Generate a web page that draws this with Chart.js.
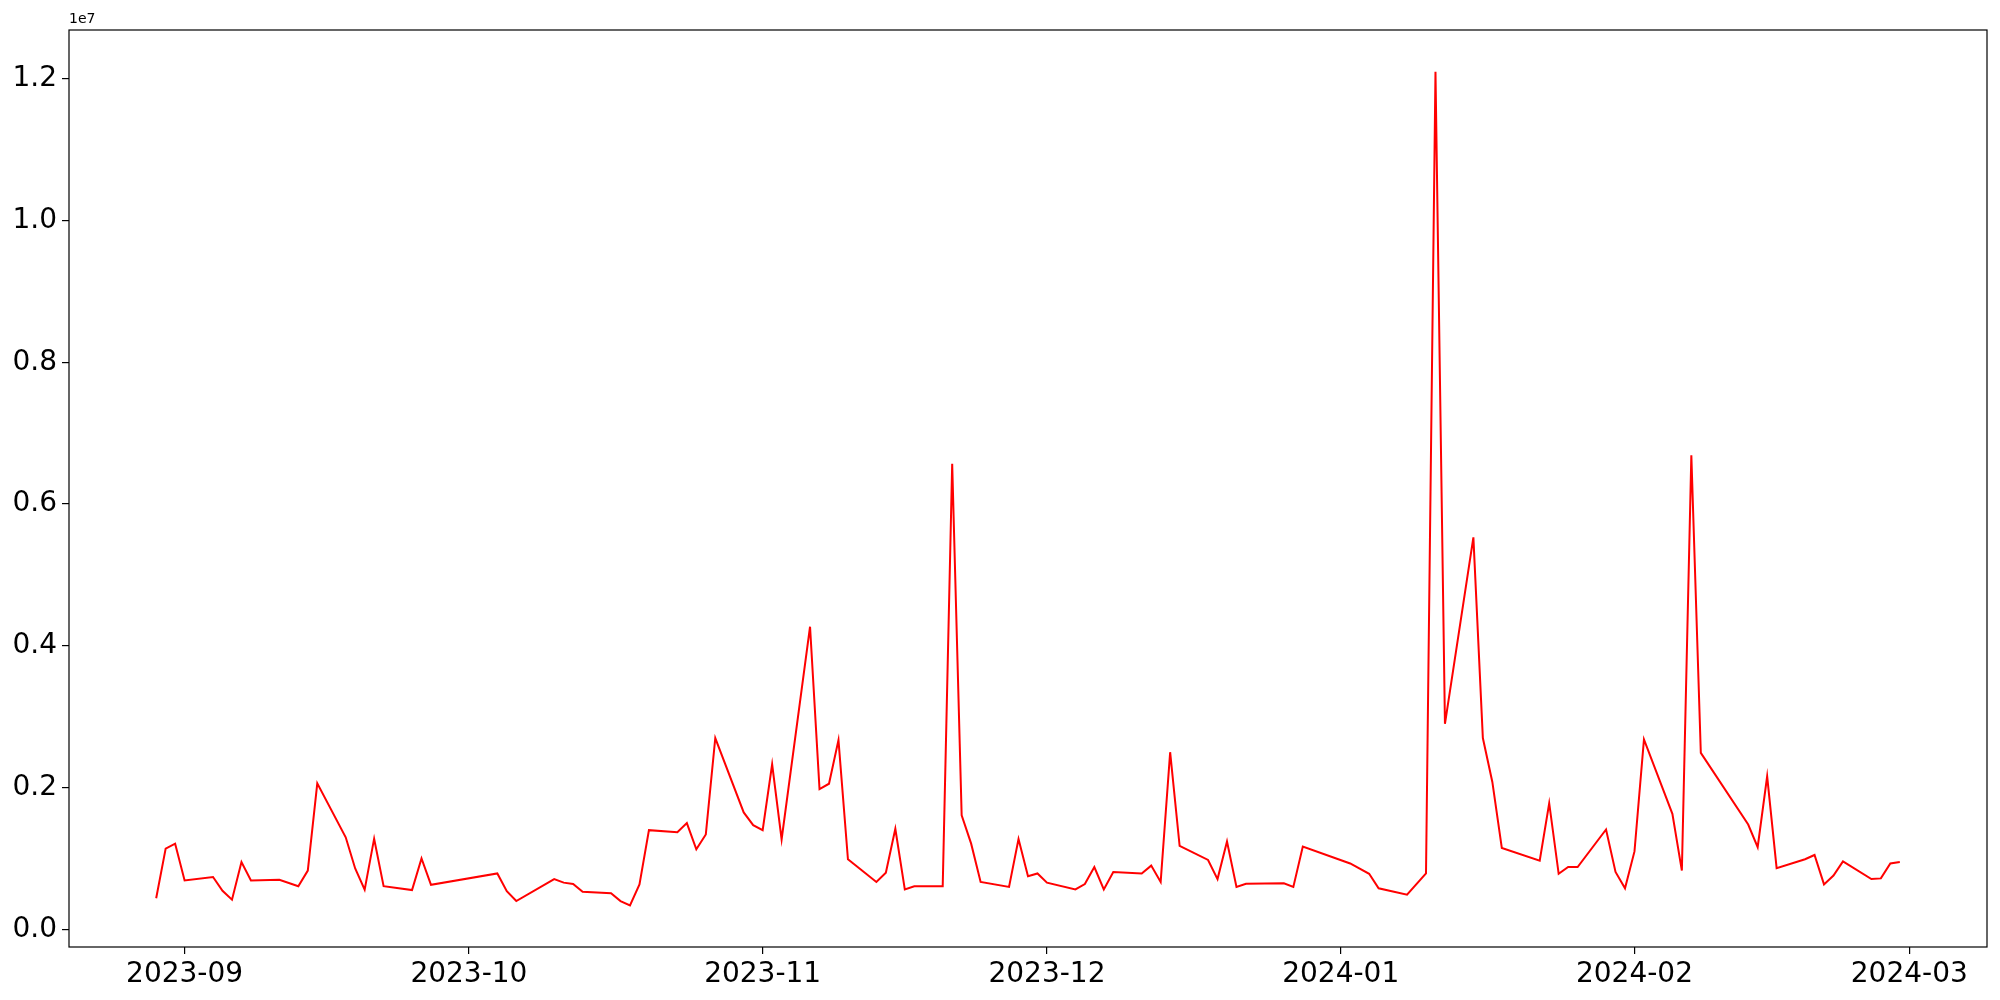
<!DOCTYPE html>
<html>
<head>
<meta charset="utf-8">
<script src="https://cdn.jsdelivr.net/npm/chart.js@4.4.0/dist/chart.umd.min.js"></script>
<style>
html, body { margin: 0; padding: 0; background: #fff; }
</style>
</head>
<body>
<canvas id="chart" width="2000" height="1000"></canvas>
<script>
// values, one per trading day
const dates = [
    "2023-08-29", "2023-08-30", "2023-08-31", "2023-09-01", "2023-09-04", "2023-09-05", "2023-09-06", "2023-09-07", "2023-09-08",
    "2023-09-11", "2023-09-13", "2023-09-14", "2023-09-15", "2023-09-18", "2023-09-19", "2023-09-20", "2023-09-21", "2023-09-22",
    "2023-09-25", "2023-09-26", "2023-09-27", "2023-10-04", "2023-10-05", "2023-10-06", "2023-10-10", "2023-10-11", "2023-10-12",
    "2023-10-13", "2023-10-16", "2023-10-17", "2023-10-18", "2023-10-19", "2023-10-20", "2023-10-23", "2023-10-24", "2023-10-25",
    "2023-10-26", "2023-10-27", "2023-10-30", "2023-10-31", "2023-11-01", "2023-11-02", "2023-11-03", "2023-11-06", "2023-11-07",
    "2023-11-08", "2023-11-09", "2023-11-10", "2023-11-13", "2023-11-14", "2023-11-15", "2023-11-16", "2023-11-17", "2023-11-20",
    "2023-11-21", "2023-11-22", "2023-11-23", "2023-11-24", "2023-11-27", "2023-11-28", "2023-11-29", "2023-11-30", "2023-12-01",
    "2023-12-04", "2023-12-05", "2023-12-06", "2023-12-07", "2023-12-08", "2023-12-11", "2023-12-12", "2023-12-13", "2023-12-14",
    "2023-12-15", "2023-12-18", "2023-12-19", "2023-12-20", "2023-12-21", "2023-12-22", "2023-12-26", "2023-12-27", "2023-12-28",
    "2024-01-02", "2024-01-04", "2024-01-05", "2024-01-08", "2024-01-10", "2024-01-11", "2024-01-12", "2024-01-15", "2024-01-16",
    "2024-01-17", "2024-01-18", "2024-01-22", "2024-01-23", "2024-01-24", "2024-01-25", "2024-01-26", "2024-01-29", "2024-01-30",
    "2024-01-31", "2024-02-01", "2024-02-02", "2024-02-05", "2024-02-06", "2024-02-07", "2024-02-08", "2024-02-13", "2024-02-14",
    "2024-02-15", "2024-02-16", "2024-02-19", "2024-02-20", "2024-02-21", "2024-02-22", "2024-02-23", "2024-02-26", "2024-02-27",
    "2024-02-28", "2024-02-29"
];

const values = [
    440000, 1140000, 1210000, 690000, 740000, 545000, 420000, 950000, 690000,
    700000, 610000, 830000, 2060000, 1300000, 860000, 560000, 1280000, 610000,
    555000, 1000000, 630000, 790000, 540000, 400000, 710000, 660000, 640000,
    530000, 510000, 400000, 340000, 635000, 1400000, 1370000, 1500000, 1130000,
    1340000, 2700000, 1650000, 1470000, 1400000, 2330000, 1270000, 4270000, 1980000,
    2055000, 2670000, 990000, 670000, 800000, 1420000, 565000, 610000, 610000,
    6570000, 1610000, 1210000, 670000, 600000, 1275000, 750000, 790000, 660000,
    565000, 640000, 880000, 565000, 810000, 790000, 900000, 670000, 2500000,
    1180000, 980000, 710000, 1240000, 600000, 645000, 650000, 600000, 1170000,
    930000, 785000, 580000, 490000, 790000, 12100000, 2900000, 5530000, 2700000,
    2080000, 1150000, 970000, 1780000, 785000, 880000, 880000, 1410000, 810000,
    580000, 1100000, 2680000, 1630000, 830000, 6690000, 2490000, 1480000, 1160000,
    2160000, 865000, 990000, 1050000, 635000, 760000, 960000, 710000, 720000,
    930000, 950000
];

const xTickLabels = ["2023-09", "2023-10", "2023-11", "2023-12", "2024-01", "2024-02", "2024-03"];
const yTickValues = [0, 2000000, 4000000, 6000000, 8000000, 10000000, 12000000];

const points = dates.map((d, i) => ({ x: Date.parse(d), y: values[i] }));

// matplotlib style 5% margins
const xFirst = points[0].x;
const xLast = points[points.length - 1].x;
const xPad = (xLast - xFirst) * 0.05;
const yLo = Math.min(...values);
const yHi = Math.max(...values);
const yPad = (yHi - yLo) * 0.05;

const tickFont = { family: "DejaVu Sans", size: 28 };

const frame = {
    id: "frame",
    afterDraw(chart) {
        const { ctx, chartArea } = chart;
        ctx.save();
        ctx.strokeStyle = "#000";
        ctx.lineWidth = 1.2;
        ctx.strokeRect(chartArea.left, chartArea.top, chartArea.right - chartArea.left, chartArea.bottom - chartArea.top);
        ctx.fillStyle = "#000";
        ctx.font = "14px 'DejaVu Sans'";
        ctx.textAlign = "left";
        ctx.textBaseline = "bottom";
        ctx.fillText("1e7", chartArea.left, chartArea.top - 4);
        ctx.restore();
    }
};

new Chart(document.getElementById("chart"), {
    type: "line",
    data: {
        datasets: [{
            data: points,
            borderColor: "#ff0000",
            borderWidth: 2,
            pointRadius: 0,
            tension: 0,
            fill: false
        }]
    },
    options: {
        responsive: false,
        animation: false,
        devicePixelRatio: 1,
        layout: { padding: { top: 30, right: 13, left: 0, bottom: 0 } },
        plugins: { legend: { display: false }, tooltip: { enabled: false } },
        scales: {
            x: {
                type: "linear",
                min: xFirst - xPad,
                max: xLast + xPad,
                afterBuildTicks: (scale) => {
                    scale.ticks = xTickLabels.map(l => ({ value: Date.parse(l + "-01") }));
                },
                afterFit: (scale) => { scale.height = 53; },
                grid: { drawOnChartArea: false, drawTicks: true, tickLength: 7, color: "#000", lineWidth: 1.2 },
                border: { display: false },
                ticks: {
                    color: "#000",
                    font: tickFont,
                    padding: 4,
                    maxRotation: 0,
                    autoSkip: false,
                    callback: (v) => {
                        const d = new Date(v);
                        return d.getUTCFullYear() + "-" + String(d.getUTCMonth() + 1).padStart(2, "0");
                    }
                }
            },
            y: {
                type: "linear",
                min: yLo - yPad,
                max: yHi + yPad,
                afterBuildTicks: (scale) => {
                    scale.ticks = yTickValues.map(v => ({ value: v }));
                },
                afterFit: (scale) => { scale.width = 69; },
                grid: { drawOnChartArea: false, drawTicks: true, tickLength: 7, color: "#000", lineWidth: 1.2 },
                border: { display: false },
                ticks: {
                    color: "#000",
                    font: tickFont,
                    padding: 5,
                    callback: (v) => (v / 1e7).toFixed(1)
                }
            }
        }
    },
    plugins: [frame]
});
</script>
</body>
</html>
